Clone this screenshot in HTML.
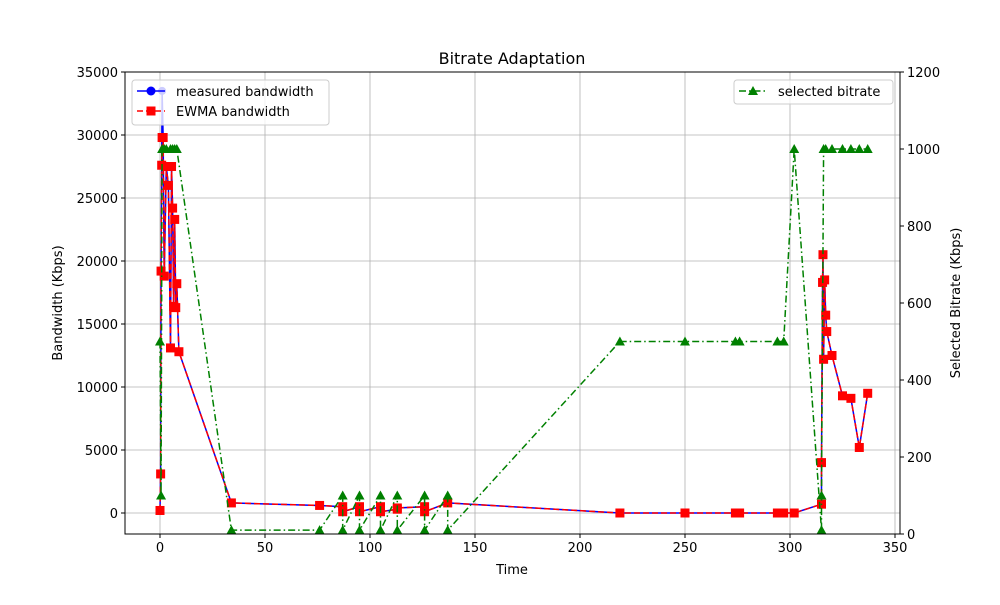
<!DOCTYPE html>
<html><head><meta charset="utf-8"><style>
body{margin:0;background:#fff;font-family:"Liberation Sans","DejaVu Sans",sans-serif}
svg text{font-family:"DejaVu Sans","Liberation Sans",sans-serif;font-size:13px;fill:#000}
</style></head><body>
<svg id="c" width="1000" height="600">
<rect width="1000" height="600" fill="#fff"/>
<g id="grid"></g><g id="series"></g><g id="axes"></g>
<text x="512" y="64" text-anchor="middle" style="font-size:16px">Bitrate Adaptation</text>
<text x="512" y="574" text-anchor="middle">Time</text>
<text transform="translate(62,303) rotate(-90)" text-anchor="middle">Bandwidth (Kbps)</text>
<text transform="translate(960,303) rotate(-90)" text-anchor="middle">Selected Bitrate (Kbps)</text>
<g>
<rect x="132" y="80" width="197" height="45" fill="#fff" fill-opacity="0.8" stroke="#ccc" rx="3"/>
<line x1="137" y1="91" x2="165" y2="91" stroke="blue" stroke-width="1.5"/><circle cx="151" cy="91" r="4.5" fill="blue"/>
<text x="176" y="96">measured bandwidth</text>
<line x1="137" y1="111" x2="165" y2="111" stroke="red" stroke-width="1.5" stroke-dasharray="6,3"/><rect x="146.5" y="106.5" width="9" height="9" fill="red"/>
<text x="176" y="116">EWMA bandwidth</text>
</g>
<g>
<rect x="734" y="80" width="159" height="24" fill="#fff" fill-opacity="0.8" stroke="#ccc" rx="3"/>
<line x1="739" y1="91" x2="767" y2="91" stroke="green" stroke-width="1.5" stroke-dasharray="7,3,1.5,3"/><path d="M753,86 L758,95 L748,95Z" fill="green"/>
<text x="778" y="96">selected bitrate</text>
</g>
</svg>
<script>
const bwTime=[0,0.3,0.5,0.8,1,1.5,2,3,4,5,5.5,6,6.5,7,7.5,8,9,34,76,87,87,95,95,105,105,113,113,126,126,137,219,250,274,276,294,297,302,315,315,315.5,315.7,316,316.5,317,317.5,320,325,329,333,337];
const bwMeasured=[200,3100,19200,27600,33500,29800,18800,27500,26000,13100,27500,24200,16400,23300,16300,18200,12800,800,600,500,100,500,100,500,100,300,400,500,100,800,0,0,0,0,0,0,0,700,4000,18300,20500,12200,18500,15700,14400,12500,9300,9100,5200,9500];
const bwEwma=[200,3100,19200,27600,29800,29800,18800,27500,26000,13100,27500,24200,16400,23300,16300,18200,12800,800,600,500,100,500,100,500,100,300,400,500,100,800,0,0,0,0,0,0,0,700,4000,18300,20500,12200,18500,15700,14400,12500,9300,9100,5200,9500];
const brTime=[0,0.5,1,2,3,5,6,7,8,34,76,87,87,95,95,105,105,113,113,126,126,137,137,219,250,274,276,294,297,302,315,315,316,317,320,325,329,333,337];
const brValues=[500,100,1000,1000,1000,1000,1000,1000,1000,10,10,100,10,100,10,100,10,100,10,100,10,100,10,500,500,500,500,500,500,1000,10,100,1000,1000,1000,1000,1000,1000,1000];
const xTicks=[0,50,100,150,200,250,300,350];
const yTicks=[0,5000,10000,15000,20000,25000,30000,35000];
const y2Ticks=[0,200,400,600,800,1000,1200];
const L=125,R=900,T=72,B=534;
const X=t=>160+t*2.1;
const Y=v=>513-v*63/5000;
const Y2=v=>534-v*462/1200;
const NS='http://www.w3.org/2000/svg';
function mk(tag,attrs,parent){const e=document.createElementNS(NS,tag);for(const k in attrs)e.setAttribute(k,attrs[k]);parent.appendChild(e);return e;}
const grid=document.getElementById('grid'),ax=document.getElementById('axes'),se=document.getElementById('series');
xTicks.forEach(t=>{const x=X(t);
 const g=mk('line',{x1:x,x2:x,y1:T,y2:B,stroke:'#b0b0b0','stroke-width':0.8},grid);
 
 mk('line',{x1:x,x2:x,y1:B,y2:B+4,stroke:'#000'},ax);
 const tx=mk('text',{x:x,y:B+18,'text-anchor':'middle'},ax);tx.textContent=t;
 });
yTicks.forEach(v=>{const y=Y(v);
 const g=mk('line',{x1:L,x2:R,y1:y,y2:y,stroke:'#b0b0b0','stroke-width':0.8},grid);
 
 mk('line',{x1:L-4,x2:L,y1:y,y2:y,stroke:'#000'},ax);
 const tx=mk('text',{x:L-7,y:y+5,'text-anchor':'end'},ax);tx.textContent=v;
 });
y2Ticks.forEach(v=>{const y=Y2(v);
 mk('line',{x1:R,x2:R+4,y1:y,y2:y,stroke:'#000'},ax);
 const tx=mk('text',{x:R+7,y:y+5,'text-anchor':'start'},ax);tx.textContent=v;
 });
const fr=mk('rect',{x:L,y:T,width:R-L,height:B-T,fill:'none',stroke:'#000','stroke-width':1},ax);

const pm=mk('polyline',{points:bwTime.map((t,i)=>X(t)+','+Y(bwMeasured[i])).join(' '),fill:'none',stroke:'blue','stroke-width':1.5},se);

bwTime.forEach((t,i)=>{const c=mk('circle',{cx:X(t),cy:Y(bwMeasured[i]),r:4,fill:'blue'},se);
 });
const pe=mk('polyline',{points:bwTime.map((t,i)=>X(t)+','+Y(bwEwma[i])).join(' '),fill:'none',stroke:'red','stroke-width':1.5,'stroke-dasharray':'6,3'},se);

bwTime.forEach((t,i)=>{const r=mk('rect',{x:X(t)-4.5,y:Y(bwEwma[i])-4.5,width:9,height:9,fill:'red'},se);
 });
const pb=mk('polyline',{points:brTime.map((t,i)=>X(t)+','+Y2(brValues[i])).join(' '),fill:'none',stroke:'green','stroke-width':1.5,'stroke-dasharray':'7,3,1.5,3'},se);

brTime.forEach((t,i)=>{const x=X(t),y=Y2(brValues[i]);
 const p=mk('path',{d:`M${x},${y-5} L${x+5},${y+4} L${x-5},${y+4}Z`,fill:'green'},se);
 });
</script>
</body></html>
